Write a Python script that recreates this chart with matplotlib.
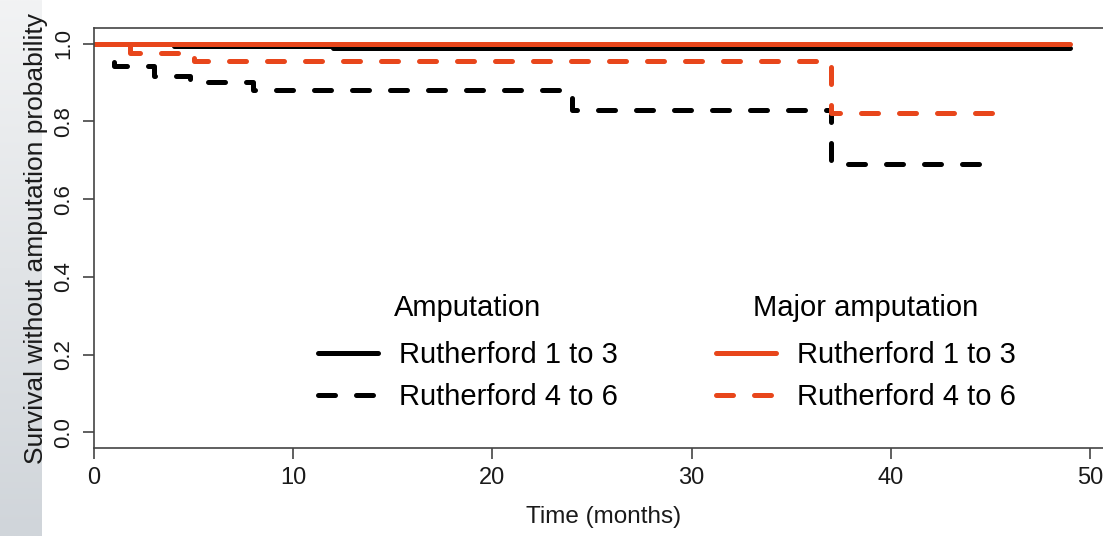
import matplotlib
matplotlib.use("Agg")
import matplotlib.pyplot as plt
import numpy as np

plt.rcParams['font.family'] = ['Liberation Sans', 'DejaVu Sans']

# Kaplan-Meier step data (time in months, survival probability)
amp_r13_time = [0, 4, 12, 49]
amp_r13_surv = [1.0, 0.995, 0.988, 0.988]

amp_r46_time = [0, 1, 3, 4.8, 8, 24, 37, 45]
amp_r46_surv = [1.0, 0.942, 0.917, 0.902, 0.880, 0.829, 0.690, 0.690]

major_r13_time = [0, 49]
major_r13_surv = [1.0, 1.0]

major_r46_time = [0, 1.8, 5.0, 37, 45.2]
major_r46_surv = [1.0, 0.975, 0.955, 0.821, 0.821]

labels = ['Rutherford 1 to 3', 'Rutherford 4 to 6']
x_ticks = [0, 10, 20, 30, 40, 50]
y_ticks = [0.0, 0.2, 0.4, 0.6, 0.8, 1.0]

orange = '#E8461B'
lw = 3.6
dash = (3.4, 4.2)

W, H = 1103, 536
fig = plt.figure(figsize=(W / 100, H / 100), dpi=100)

# grey slide strip on the left
bg = fig.add_axes([0, 0, 42 / W, 1])
grad = np.linspace(0, 1, 256).reshape(-1, 1)
bg.imshow(grad, aspect='auto', cmap=matplotlib.colors.LinearSegmentedColormap.from_list(
    'g', ['#d0d5da', '#f2f3f4']), origin='lower', extent=[0, 1, 0, 1])
bg.set_axis_off()

ax = fig.add_axes([94 / W, 88 / H, (1114 - 94) / W, 420 / H])

ax.step(amp_r13_time, amp_r13_surv, where='post', color='black', lw=lw,
        solid_capstyle='round')
ax.step(amp_r46_time, amp_r46_surv, where='post', color='black', lw=lw,
        dashes=dash, dash_capstyle='round')
ax.step(major_r46_time, major_r46_surv, where='post', color=orange, lw=lw,
        dashes=dash, dash_capstyle='round')
ax.step(major_r13_time, major_r13_surv, where='post', color=orange, lw=lw,
        solid_capstyle='round')

ax.set_xlim(0, 51.2)
ax.set_ylim(-0.04, 1.04)
ax.set_xticks(x_ticks)
ax.set_xticklabels([str(t) for t in x_ticks])
ax.set_yticks(y_ticks)
ax.set_yticklabels([f'{t:.1f}' for t in y_ticks], rotation=90, va='center')

for s in ax.spines.values():
    s.set_color('#444444')
    s.set_linewidth(1.2)
ax.tick_params(axis='both', length=8, width=1.2, color='#444444',
               labelcolor='#1a1a1a')
ax.tick_params(axis='x', pad=6, labelsize=17)
ax.tick_params(axis='y', pad=6, labelsize=16)

ax.set_xlabel('Time (months)', fontsize=17.5, color='#1a1a1a', labelpad=12)
ax.set_ylabel('Survival without amputation probability', fontsize=19,
              color='#1a1a1a', labelpad=4)

# legends
h_black = [plt.Line2D([], [], color='black', lw=lw, solid_capstyle='round'),
           plt.Line2D([], [], color='black', lw=lw, dashes=dash, dash_capstyle='round')]
h_orange = [plt.Line2D([], [], color=orange, lw=lw, solid_capstyle='round'),
            plt.Line2D([], [], color=orange, lw=lw, dashes=dash, dash_capstyle='round')]

common = dict(frameon=False, fontsize=21, title_fontsize=21, loc='upper left',
              borderpad=0, borderaxespad=0, handlelength=2.05, handletextpad=0.72,
              labelspacing=0.48, bbox_transform=fig.transFigure)
leg1 = ax.legend(h_black, labels, title='Amputation',
                 bbox_to_anchor=(318 / W, 1 - 294 / H), **common)
ax.add_artist(leg1)
leg2 = ax.legend(h_orange, labels, title='Major amputation',
                 bbox_to_anchor=(716 / W, 1 - 294 / H), **common)
for lg in (leg1, leg2):
    lg._legend_box.sep = 14

fig.savefig('out.png', dpi=100)
